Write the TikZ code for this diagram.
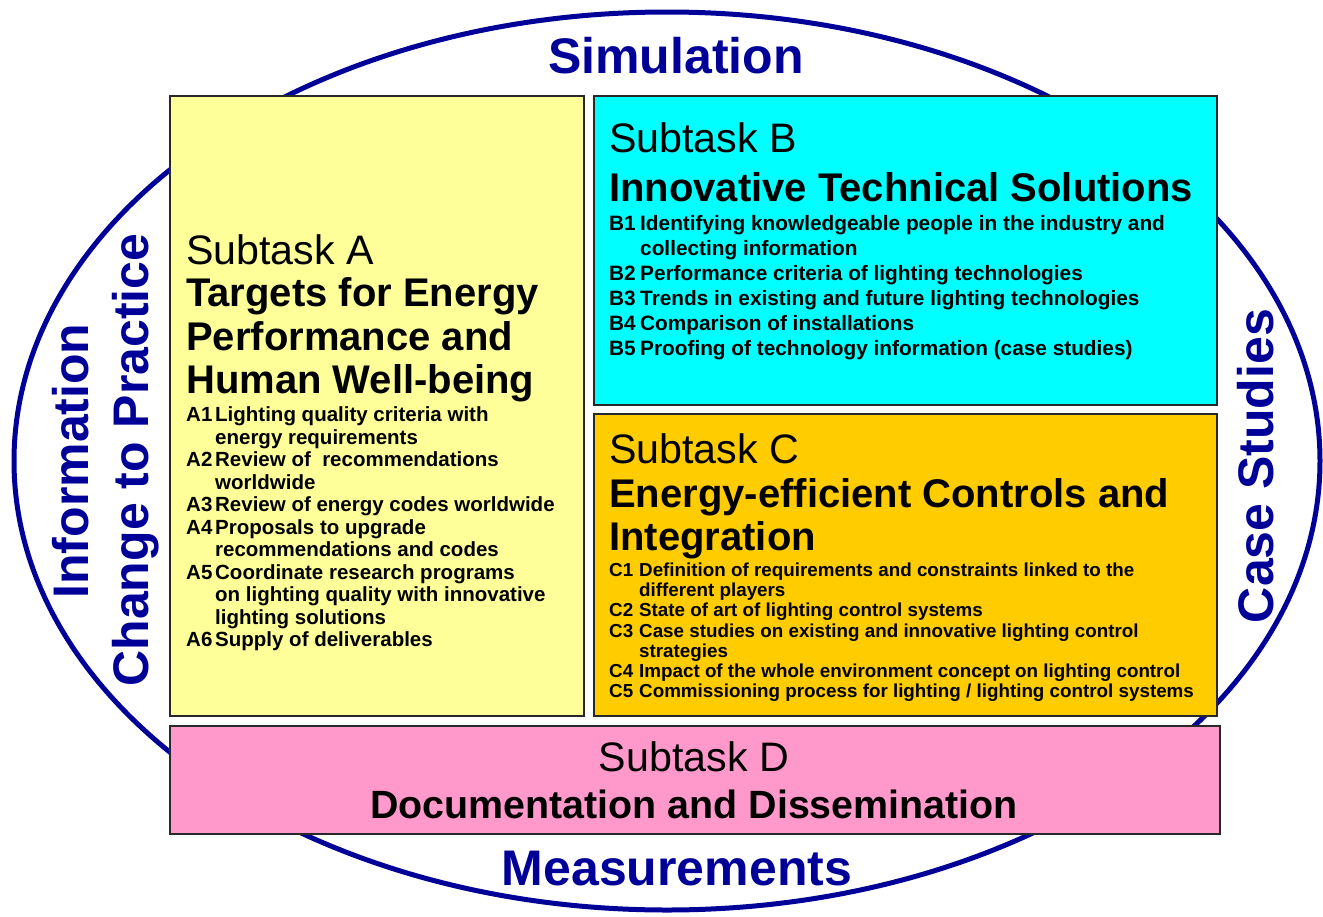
\documentclass[tikz,border=0pt]{standalone}
\usepackage{fontspec}
\setmainfont{Liberation Sans}
\definecolor{navy}{RGB}{0,0,153}
\definecolor{ayellow}{RGB}{255,255,153}
\definecolor{bcyan}{RGB}{0,255,255}
\definecolor{corange}{RGB}{255,204,0}
\definecolor{dpink}{RGB}{255,153,204}
\definecolor{boxline}{RGB}{40,40,40}
\newcommand\lblA[1]{\makebox[29pt][l]{#1}}
\newcommand\indA{\hspace*{29pt}}
\newcommand\lblB[1]{\makebox[31pt][l]{#1}}
\newcommand\indB{\hspace*{31pt}}
\newcommand\lblC[1]{\makebox[30pt][l]{#1}}
\newcommand\indC{\hspace*{30pt}}
\begin{document}
\begin{tikzpicture}[x=1pt,y=-1pt,
  box/.style={draw=boxline, line width=1.5pt, inner sep=0pt, anchor=north west},
  sub/.style={inner sep=0pt, font=\fontsize{41.2}{44}\selectfont},
  hd/.style={inner sep=0pt, align=left, font=\fontsize{40}{43.5}\selectfont\bfseries},
  listA/.style={inner sep=0pt, align=left, font=\fontsize{20.5}{22.5}\selectfont\bfseries},
  listB/.style={inner sep=0pt, align=left, font=\fontsize{20.8}{24.9}\selectfont\bfseries},
  listC/.style={inner sep=0pt, align=left, font=\fontsize{18.8}{20.1}\selectfont\bfseries},
  side/.style={inner sep=0pt, text=navy, font=\fontsize{50}{55}\selectfont\bfseries}]
\useasboundingbox (0,0) rectangle (1323,916);
\fill[white] (0,0) rectangle (1323,916);
\draw[navy, line width=5pt] (667,461) ellipse [x radius=653pt, y radius=449pt];

% boxes
\node[box, fill=ayellow, minimum width=414pt, minimum height=620pt] (A) at (169,95) {};
\node[box, fill=bcyan, minimum width=623pt, minimum height=309pt] (B) at (593,95) {};
\node[box, fill=corange, minimum width=623pt, minimum height=302pt] (C) at (593,413) {};
\node[box, fill=dpink, minimum width=1050pt, minimum height=108pt] (D) at (169,725) {};

% Subtask A (multi-line nodes anchored at the baseline of their last line)
\node[sub, anchor=base west] (Asub) at (186,264) {Subtask A};
\node[hd, anchor=base west] (Ahd) at (186,393.5) {Targets for Energy\\Performance and\\Human Well-being};
\node[listA, anchor=base west] (Alist) at (186,646.7) {%
\lblA{A1}Lighting quality criteria with\\
\indA energy requirements\\
\lblA{A2}Review of~ recommendations\\
\indA worldwide\\
\lblA{A3}Review of energy codes worldwide\\
\lblA{A4}Proposals to upgrade\\
\indA recommendations and codes\\
\lblA{A5}Coordinate research programs\\
\indA on lighting quality with innovative\\
\indA lighting solutions\\
\lblA{A6}Supply of deliverables};

% Subtask B
\node[sub, anchor=base west] (Bsub) at (609,152.7) {Subtask B};
\node[hd, anchor=base west] (Bhd) at (609,201) {Innovative Technical Solutions};
\node[listB, anchor=base west] (Blist) at (609,355.2) {%
\lblB{B1}Identifying knowledgeable people in the industry and\\
\indB collecting information\\
\lblB{B2}Performance criteria of lighting technologies\\
\lblB{B3}Trends in existing and future lighting technologies\\
\lblB{B4}Comparison of installations\\
\lblB{B5}Proofing of technology information (case studies)};

% Subtask C
\node[sub, anchor=base west] (Csub) at (609,463) {Subtask C};
\node[hd, anchor=base west] (Chd) at (609,550.7) {Energy-efficient Controls and\\Integration};
\node[listC, anchor=base west] (Clist) at (609,697.3) {%
\lblC{C1}Definition of requirements and constraints linked to the\\
\indC different players\\
\lblC{C2}State of art of lighting control systems\\
\lblC{C3}Case studies on existing and innovative lighting control\\
\indC strategies\\
\lblC{C4}Impact of the whole environment concept on lighting control\\
\lblC{C5}Commissioning process for lighting / lighting control systems};

% Subtask D
\node[sub, anchor=base] (Dsub) at (694,771) {Subtask D};
\node[hd, anchor=base, font=\fontsize{39.4}{42}\selectfont\bfseries] (Dhd) at (694,818) {Documentation and Dissemination};

% side labels
\node[side, anchor=base] (sim) at (676,73.5) {Simulation};
\node[side, anchor=base] (meas) at (677,885) {Measurements};
\node[side, anchor=base, rotate=90] (info) at (88,461) {Information};
\node[side, anchor=base, rotate=90] (chg) at (148,460) {Change to Practice};
\node[side, anchor=base, rotate=90] (case) at (1273,466) {Case Studies};
\end{tikzpicture}
\end{document}
